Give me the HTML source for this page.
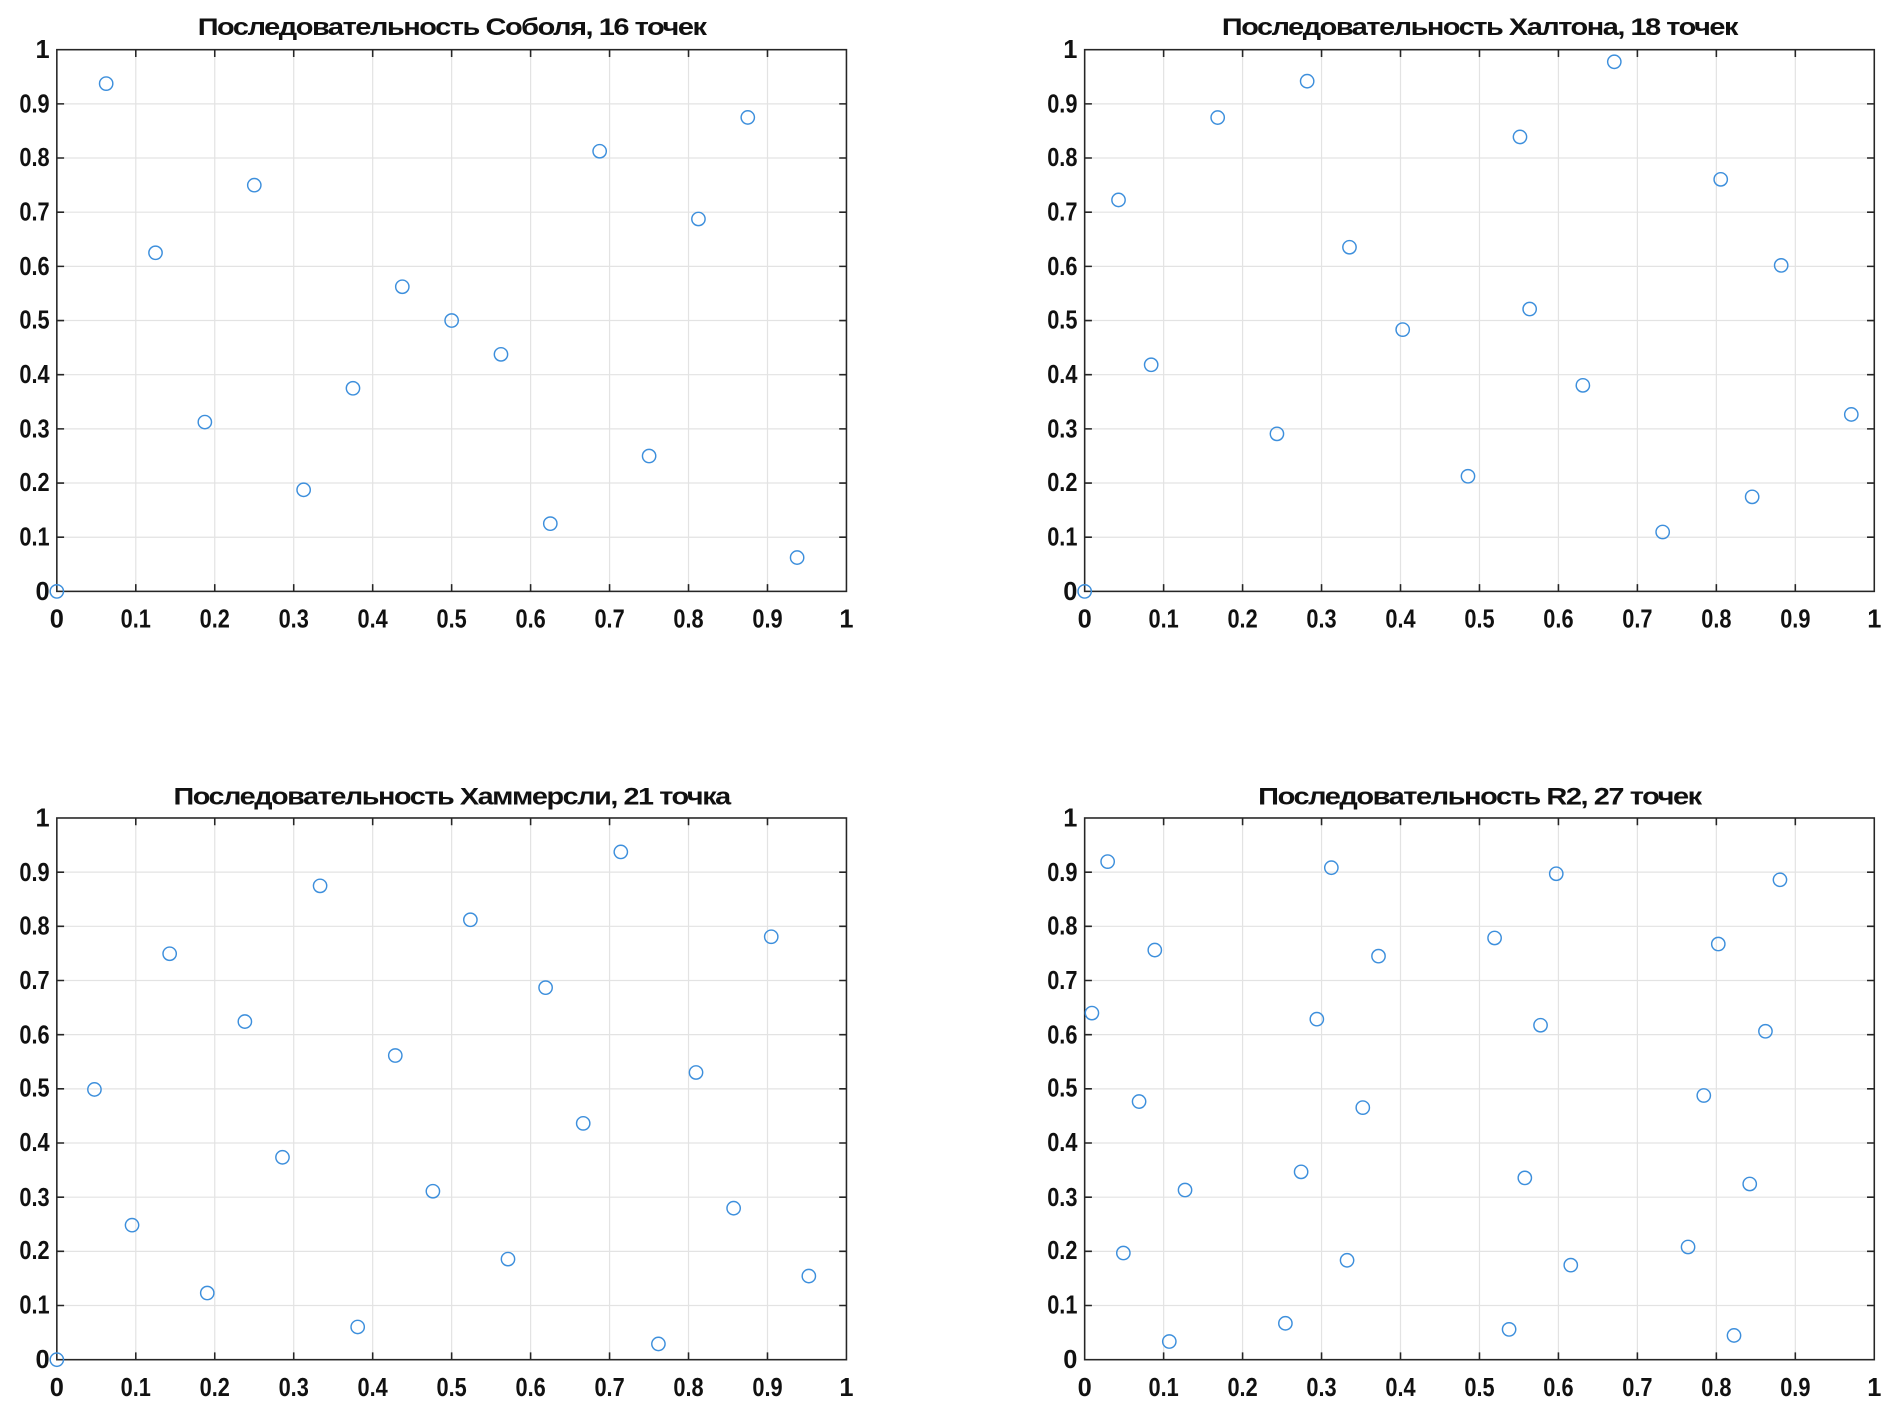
<!DOCTYPE html>
<html><head><meta charset="utf-8"><style>html,body{margin:0;padding:0;background:#fff}svg{display:block}</style></head>
<body>
<svg xmlns="http://www.w3.org/2000/svg" width="1890" height="1413" viewBox="0 0 1563 1166" preserveAspectRatio="none">
<defs>
<g id="ax">
<rect x="0" y="0" width="653" height="447" fill="#fff"/>
<g stroke="#e3e3e3" stroke-width="1">
<path d="M65.3 0V447M130.6 0V447M195.9 0V447M261.2 0V447M326.5 0V447M391.8 0V447M457.1 0V447M522.4 0V447M587.7 0V447"/>
<path d="M0 44.7H653M0 89.4H653M0 134.1H653M0 178.8H653M0 223.5H653M0 268.2H653M0 312.9H653M0 357.6H653M0 402.3H653"/>
</g>
<g stroke="#262626" stroke-width="1.3">
<path d="M65.3 447v-6M130.6 447v-6M195.9 447v-6M261.2 447v-6M326.5 447v-6M391.8 447v-6M457.1 447v-6M522.4 447v-6M587.7 447v-6"/>
<path d="M65.3 0v6M130.6 0v6M195.9 0v6M261.2 0v6M326.5 0v6M391.8 0v6M457.1 0v6M522.4 0v6M587.7 0v6"/>
<path d="M0 44.7h6M0 89.4h6M0 134.1h6M0 178.8h6M0 223.5h6M0 268.2h6M0 312.9h6M0 357.6h6M0 402.3h6"/>
<path d="M653 44.7h-6M653 89.4h-6M653 134.1h-6M653 178.8h-6M653 223.5h-6M653 268.2h-6M653 312.9h-6M653 357.6h-6M653 402.3h-6"/>
<rect x="0" y="0" width="653" height="447" fill="none"/>
</g>
</g>
</defs>
<style>
.t{font-family:"Liberation Sans",sans-serif;font-weight:bold;font-size:21px;fill:#111}
.tt{font-family:"Liberation Sans",sans-serif;font-weight:bold;font-size:20px;fill:#111;letter-spacing:-1px}
circle{fill:none;stroke:#3d8fdc;stroke-width:1.2}
</style>

<g transform="translate(47,41)">
<use href="#ax"/>
<g class="t" text-anchor="middle">
<text x="0" y="477">0</text><text x="65.3" y="477" textLength="25" lengthAdjust="spacingAndGlyphs">0.1</text><text x="130.6" y="477" textLength="25" lengthAdjust="spacingAndGlyphs">0.2</text><text x="195.9" y="477" textLength="25" lengthAdjust="spacingAndGlyphs">0.3</text><text x="261.2" y="477" textLength="25" lengthAdjust="spacingAndGlyphs">0.4</text><text x="326.5" y="477" textLength="25" lengthAdjust="spacingAndGlyphs">0.5</text><text x="391.8" y="477" textLength="25" lengthAdjust="spacingAndGlyphs">0.6</text><text x="457.1" y="477" textLength="25" lengthAdjust="spacingAndGlyphs">0.7</text><text x="522.4" y="477" textLength="25" lengthAdjust="spacingAndGlyphs">0.8</text><text x="587.7" y="477" textLength="25" lengthAdjust="spacingAndGlyphs">0.9</text><text x="653" y="477">1</text>
</g>
<g class="t" text-anchor="end">
<text x="-6" y="454">0</text><text x="-6" y="409" textLength="25" lengthAdjust="spacingAndGlyphs">0.1</text><text x="-6" y="364" textLength="25" lengthAdjust="spacingAndGlyphs">0.2</text><text x="-6" y="320" textLength="25" lengthAdjust="spacingAndGlyphs">0.3</text><text x="-6" y="275" textLength="25" lengthAdjust="spacingAndGlyphs">0.4</text><text x="-6" y="230" textLength="25" lengthAdjust="spacingAndGlyphs">0.5</text><text x="-6" y="186" textLength="25" lengthAdjust="spacingAndGlyphs">0.6</text><text x="-6" y="141" textLength="25" lengthAdjust="spacingAndGlyphs">0.7</text><text x="-6" y="96" textLength="25" lengthAdjust="spacingAndGlyphs">0.8</text><text x="-6" y="52" textLength="25" lengthAdjust="spacingAndGlyphs">0.9</text><text x="-6" y="7">1</text>
</g>
<text class="tt" x="326.5" y="-12" text-anchor="middle" textLength="420" lengthAdjust="spacingAndGlyphs">Последовательность Соболя, 16 точек</text>
</g>

<g transform="translate(897,41)">
<use href="#ax"/>
<g class="t" text-anchor="middle">
<text x="0" y="477">0</text><text x="65.3" y="477" textLength="25" lengthAdjust="spacingAndGlyphs">0.1</text><text x="130.6" y="477" textLength="25" lengthAdjust="spacingAndGlyphs">0.2</text><text x="195.9" y="477" textLength="25" lengthAdjust="spacingAndGlyphs">0.3</text><text x="261.2" y="477" textLength="25" lengthAdjust="spacingAndGlyphs">0.4</text><text x="326.5" y="477" textLength="25" lengthAdjust="spacingAndGlyphs">0.5</text><text x="391.8" y="477" textLength="25" lengthAdjust="spacingAndGlyphs">0.6</text><text x="457.1" y="477" textLength="25" lengthAdjust="spacingAndGlyphs">0.7</text><text x="522.4" y="477" textLength="25" lengthAdjust="spacingAndGlyphs">0.8</text><text x="587.7" y="477" textLength="25" lengthAdjust="spacingAndGlyphs">0.9</text><text x="653" y="477">1</text>
</g>
<g class="t" text-anchor="end">
<text x="-6" y="454">0</text><text x="-6" y="409" textLength="25" lengthAdjust="spacingAndGlyphs">0.1</text><text x="-6" y="364" textLength="25" lengthAdjust="spacingAndGlyphs">0.2</text><text x="-6" y="320" textLength="25" lengthAdjust="spacingAndGlyphs">0.3</text><text x="-6" y="275" textLength="25" lengthAdjust="spacingAndGlyphs">0.4</text><text x="-6" y="230" textLength="25" lengthAdjust="spacingAndGlyphs">0.5</text><text x="-6" y="186" textLength="25" lengthAdjust="spacingAndGlyphs">0.6</text><text x="-6" y="141" textLength="25" lengthAdjust="spacingAndGlyphs">0.7</text><text x="-6" y="96" textLength="25" lengthAdjust="spacingAndGlyphs">0.8</text><text x="-6" y="52" textLength="25" lengthAdjust="spacingAndGlyphs">0.9</text><text x="-6" y="7">1</text>
</g>
<text class="tt" x="326.5" y="-12" text-anchor="middle" textLength="426" lengthAdjust="spacingAndGlyphs">Последовательность Халтона, 18 точек</text>
</g>

<g transform="translate(47,675)">
<use href="#ax"/>
<g class="t" text-anchor="middle">
<text x="0" y="477">0</text><text x="65.3" y="477" textLength="25" lengthAdjust="spacingAndGlyphs">0.1</text><text x="130.6" y="477" textLength="25" lengthAdjust="spacingAndGlyphs">0.2</text><text x="195.9" y="477" textLength="25" lengthAdjust="spacingAndGlyphs">0.3</text><text x="261.2" y="477" textLength="25" lengthAdjust="spacingAndGlyphs">0.4</text><text x="326.5" y="477" textLength="25" lengthAdjust="spacingAndGlyphs">0.5</text><text x="391.8" y="477" textLength="25" lengthAdjust="spacingAndGlyphs">0.6</text><text x="457.1" y="477" textLength="25" lengthAdjust="spacingAndGlyphs">0.7</text><text x="522.4" y="477" textLength="25" lengthAdjust="spacingAndGlyphs">0.8</text><text x="587.7" y="477" textLength="25" lengthAdjust="spacingAndGlyphs">0.9</text><text x="653" y="477">1</text>
</g>
<g class="t" text-anchor="end">
<text x="-6" y="454">0</text><text x="-6" y="409" textLength="25" lengthAdjust="spacingAndGlyphs">0.1</text><text x="-6" y="364" textLength="25" lengthAdjust="spacingAndGlyphs">0.2</text><text x="-6" y="320" textLength="25" lengthAdjust="spacingAndGlyphs">0.3</text><text x="-6" y="275" textLength="25" lengthAdjust="spacingAndGlyphs">0.4</text><text x="-6" y="230" textLength="25" lengthAdjust="spacingAndGlyphs">0.5</text><text x="-6" y="186" textLength="25" lengthAdjust="spacingAndGlyphs">0.6</text><text x="-6" y="141" textLength="25" lengthAdjust="spacingAndGlyphs">0.7</text><text x="-6" y="96" textLength="25" lengthAdjust="spacingAndGlyphs">0.8</text><text x="-6" y="52" textLength="25" lengthAdjust="spacingAndGlyphs">0.9</text><text x="-6" y="7">1</text>
</g>
<text class="tt" x="326.5" y="-11" text-anchor="middle" textLength="460" lengthAdjust="spacingAndGlyphs">Последовательность Хаммерсли, 21 точка</text>
</g>

<g transform="translate(897,675)">
<use href="#ax"/>
<g class="t" text-anchor="middle">
<text x="0" y="477">0</text><text x="65.3" y="477" textLength="25" lengthAdjust="spacingAndGlyphs">0.1</text><text x="130.6" y="477" textLength="25" lengthAdjust="spacingAndGlyphs">0.2</text><text x="195.9" y="477" textLength="25" lengthAdjust="spacingAndGlyphs">0.3</text><text x="261.2" y="477" textLength="25" lengthAdjust="spacingAndGlyphs">0.4</text><text x="326.5" y="477" textLength="25" lengthAdjust="spacingAndGlyphs">0.5</text><text x="391.8" y="477" textLength="25" lengthAdjust="spacingAndGlyphs">0.6</text><text x="457.1" y="477" textLength="25" lengthAdjust="spacingAndGlyphs">0.7</text><text x="522.4" y="477" textLength="25" lengthAdjust="spacingAndGlyphs">0.8</text><text x="587.7" y="477" textLength="25" lengthAdjust="spacingAndGlyphs">0.9</text><text x="653" y="477">1</text>
</g>
<g class="t" text-anchor="end">
<text x="-6" y="454">0</text><text x="-6" y="409" textLength="25" lengthAdjust="spacingAndGlyphs">0.1</text><text x="-6" y="364" textLength="25" lengthAdjust="spacingAndGlyphs">0.2</text><text x="-6" y="320" textLength="25" lengthAdjust="spacingAndGlyphs">0.3</text><text x="-6" y="275" textLength="25" lengthAdjust="spacingAndGlyphs">0.4</text><text x="-6" y="230" textLength="25" lengthAdjust="spacingAndGlyphs">0.5</text><text x="-6" y="186" textLength="25" lengthAdjust="spacingAndGlyphs">0.6</text><text x="-6" y="141" textLength="25" lengthAdjust="spacingAndGlyphs">0.7</text><text x="-6" y="96" textLength="25" lengthAdjust="spacingAndGlyphs">0.8</text><text x="-6" y="52" textLength="25" lengthAdjust="spacingAndGlyphs">0.9</text><text x="-6" y="7">1</text>
</g>
<text class="tt" x="326.5" y="-11" text-anchor="middle" textLength="366" lengthAdjust="spacingAndGlyphs">Последовательность R2, 27 точек</text>
</g>

<g>
<circle cx="47" cy="488" r="5.5"/><circle cx="373.5" cy="264.5" r="5.5"/><circle cx="536.8" cy="376.3" r="5.5"/><circle cx="210.3" cy="152.8" r="5.5"/><circle cx="291.9" cy="320.4" r="5.5"/><circle cx="618.4" cy="96.9" r="5.5"/><circle cx="455.1" cy="432.1" r="5.5"/><circle cx="128.6" cy="208.6" r="5.5"/><circle cx="169.4" cy="348.3" r="5.5"/><circle cx="495.9" cy="124.8" r="5.5"/><circle cx="659.2" cy="460.1" r="5.5"/><circle cx="332.7" cy="236.6" r="5.5"/><circle cx="251.1" cy="404.2" r="5.5"/><circle cx="577.6" cy="180.7" r="5.5"/><circle cx="414.3" cy="292.4" r="5.5"/><circle cx="87.8" cy="69" r="5.5"/>
<circle cx="897" cy="488" r="5.5"/><circle cx="925" cy="165" r="5.5"/><circle cx="952" cy="301" r="5.5"/><circle cx="1007" cy="97" r="5.5"/><circle cx="1056" cy="358" r="5.5"/><circle cx="1081" cy="67" r="5.5"/><circle cx="1116" cy="204" r="5.5"/><circle cx="1160" cy="272" r="5.5"/><circle cx="1214" cy="393" r="5.5"/><circle cx="1257" cy="113" r="5.5"/><circle cx="1265" cy="255" r="5.5"/><circle cx="1309" cy="318" r="5.5"/><circle cx="1335" cy="51" r="5.5"/><circle cx="1375" cy="439" r="5.5"/><circle cx="1423" cy="148" r="5.5"/><circle cx="1449" cy="410" r="5.5"/><circle cx="1473" cy="219" r="5.5"/><circle cx="1531" cy="342" r="5.5"/>
<circle cx="47" cy="1122" r="5.5"/><circle cx="78.1" cy="899" r="5.5"/><circle cx="109.2" cy="1011" r="5.5"/><circle cx="140.3" cy="787" r="5.5"/><circle cx="171.4" cy="1067" r="5.5"/><circle cx="202.5" cy="843" r="5.5"/><circle cx="233.6" cy="955" r="5.5"/><circle cx="264.7" cy="731" r="5.5"/><circle cx="295.8" cy="1095" r="5.5"/><circle cx="326.9" cy="871" r="5.5"/><circle cx="358" cy="983" r="5.5"/><circle cx="389" cy="759" r="5.5"/><circle cx="420.1" cy="1039" r="5.5"/><circle cx="451.2" cy="815" r="5.5"/><circle cx="482.3" cy="927" r="5.5"/><circle cx="513.4" cy="703" r="5.5"/><circle cx="544.5" cy="1109" r="5.5"/><circle cx="575.6" cy="885" r="5.5"/><circle cx="606.7" cy="997" r="5.5"/><circle cx="637.8" cy="773" r="5.5"/><circle cx="668.9" cy="1053" r="5.5"/>
<circle cx="916" cy="711" r="5.5"/><circle cx="903" cy="836" r="5.5"/><circle cx="929" cy="1034" r="5.5"/><circle cx="942" cy="909" r="5.5"/><circle cx="955" cy="784" r="5.5"/><circle cx="967" cy="1107" r="5.5"/><circle cx="980" cy="982" r="5.5"/><circle cx="1063" cy="1092" r="5.5"/><circle cx="1076" cy="967" r="5.5"/><circle cx="1089" cy="841" r="5.5"/><circle cx="1101" cy="716" r="5.5"/><circle cx="1114" cy="1040" r="5.5"/><circle cx="1127" cy="914" r="5.5"/><circle cx="1140" cy="789" r="5.5"/><circle cx="1236" cy="774" r="5.5"/><circle cx="1248" cy="1097" r="5.5"/><circle cx="1261" cy="972" r="5.5"/><circle cx="1274" cy="846" r="5.5"/><circle cx="1287" cy="721" r="5.5"/><circle cx="1299" cy="1044" r="5.5"/><circle cx="1396" cy="1029" r="5.5"/><circle cx="1409" cy="904" r="5.5"/><circle cx="1421" cy="779" r="5.5"/><circle cx="1434" cy="1102" r="5.5"/><circle cx="1447" cy="977" r="5.5"/><circle cx="1460" cy="851" r="5.5"/><circle cx="1472" cy="726" r="5.5"/>
</g>
</svg>
</body></html>
